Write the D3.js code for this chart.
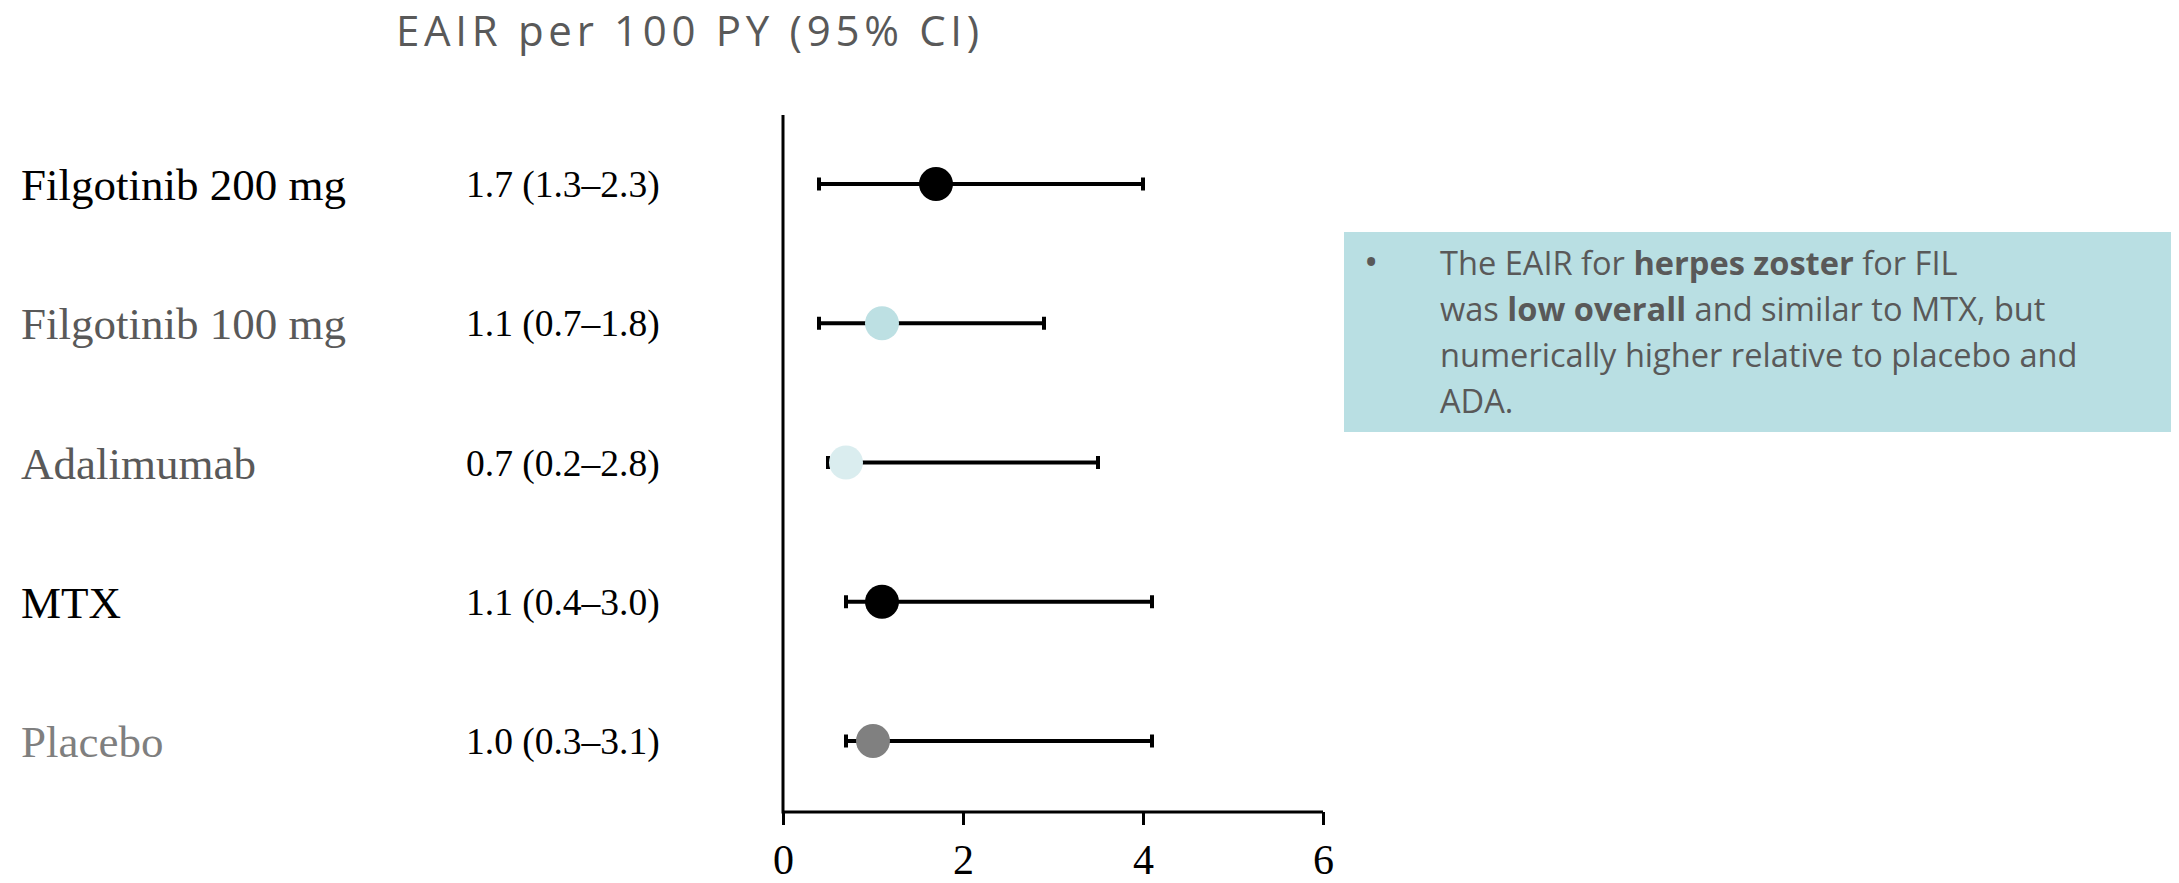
<!DOCTYPE html>
<html>
<head>
<meta charset="utf-8">
<script src="https://cdn.jsdelivr.net/npm/d3@7"></script>
<style>
  body { margin: 0; background: #fff; }
  svg { display: block; }
</style>
</head>
<body>
<div class="forest"></div>
<script>
// data
var groups = ["Filgotinib 200 mg", "Filgotinib 100 mg", "Adalimumab", "MTX", "Placebo"];
var estimate = [1.7, 1.1, 0.7, 1.1, 1.0];
var ciLabels = ["1.7 (1.3\u20132.3)", "1.1 (0.7\u20131.8)", "0.7 (0.2\u20132.8)", "1.1 (0.4\u20133.0)", "1.0 (0.3\u20133.1)"];
// whiskers as drawn in the figure
var whiskerLow = [0.4, 0.4, 0.5, 0.7, 0.7];
var whiskerHigh = [4.0, 2.9, 3.5, 4.1, 4.1];
var xTicks = [0, 2, 4, 6];
var labelColors = ["#000000", "#595959", "#595959", "#000000", "#7f7f7f"];
var dotColors = ["#000000", "#bde0e3", "#daedef", "#000000", "#808080"];

var noteLines = [
	[["The EAIR for ", false], ["herpes zoster", true], [" for FIL", false]],
	[["was ", false], ["low overall", true], [" and similar to MTX, but", false]],
	[["numerically higher relative to placebo and", false]],
	[["ADA.", false]]
];

var width = 2179, height = 883;

var svg = d3.select('.forest')
	.append('svg')
	.attr('width', width)
	.attr('height', height);

//scales
var xScale = d3.scaleLinear()
	.domain([0, 6])
	.range([783, 1323]);

var yScale = d3.scalePoint()
	.domain(groups)
	.range([184, 741]);

var axisY = 812;

//title
svg.append('text')
	.attr('x', 396)
	.attr('y', 46)
	.attr('font-family', 'Open Sans')
	.attr('font-size', 42)
	.attr('letter-spacing', 4.7)
	.attr('fill', '#595959')
	.text('EAIR per 100 PY (95% CI)');

//x axis
var xAxis = d3.axisBottom()
	.scale(xScale)
	.tickValues(xTicks)
	.tickFormat(d3.format('d'))
	.tickSizeInner(13)
	.tickSizeOuter(13)
	.tickPadding(20);

var gx = svg.append('g')
	.attr('class', 'x axis')
	.attr('transform', 'translate(0,' + axisY + ')')
	.call(xAxis);

gx.select('.domain').attr('stroke', '#000').attr('stroke-width', 3).attr('d', 'M' + xScale(0) + ',0H' + xScale(6));
gx.selectAll('.tick line').attr('stroke', '#000').attr('stroke-width', 3);
gx.selectAll('.tick text')
	.attr('font-family', 'Liberation Serif')
	.attr('font-size', 42)
	.attr('dy', null)
	.attr('y', 62)
	.attr('fill', '#000');

//vertical axis line at zero
svg.append('line')
	.attr('x1', xScale(0))
	.attr('x2', xScale(0))
	.attr('y1', 115)
	.attr('y2', axisY + 1.5)
	.attr('stroke', '#000')
	.attr('stroke-width', 3);

var rows = groups.map(function (g, i) {
	return {
		group: g,
		est: estimate[i],
		lo: whiskerLow[i],
		hi: whiskerHigh[i],
		label: ciLabels[i],
		labelColor: labelColors[i],
		dotColor: dotColors[i]
	};
});

var row = svg.selectAll('.row')
	.data(rows)
	.enter().append('g')
	.attr('class', 'row')
	.attr('transform', function (d) { return 'translate(0,' + yScale(d.group) + ')'; });

//group names
row.append('text')
	.attr('x', 21)
	.attr('y', 16)
	.attr('font-family', 'Liberation Serif')
	.attr('font-size', 45)
	.attr('fill', function (d) { return d.labelColor; })
	.text(function (d) { return d.group; });

//estimate text
row.append('text')
	.attr('x', 466)
	.attr('y', 13)
	.attr('font-family', 'Liberation Serif')
	.attr('font-size', 37.5)
	.attr('fill', '#000')
	.text(function (d) { return d.label; });

//whiskers
row.append('line')
	.attr('x1', function (d) { return xScale(d.lo); })
	.attr('x2', function (d) { return xScale(d.hi); })
	.attr('stroke', '#000')
	.attr('stroke-width', 4);

row.selectAll('.cap')
	.data(function (d) { return [d.lo, d.hi]; })
	.enter().append('line')
	.attr('class', 'cap')
	.attr('x1', function (v) { return xScale(v); })
	.attr('x2', function (v) { return xScale(v); })
	.attr('y1', -6.5)
	.attr('y2', 6.5)
	.attr('stroke', '#000')
	.attr('stroke-width', 4);

//points
row.append('circle')
	.attr('cx', function (d) { return xScale(d.est); })
	.attr('cy', 0)
	.attr('r', 17)
	.attr('fill', function (d) { return d.dotColor; });

//note box
var note = svg.append('g').attr('class', 'note');

note.append('rect')
	.attr('x', 1344)
	.attr('y', 232)
	.attr('width', 827)
	.attr('height', 200)
	.attr('fill', '#b9dfe3');

note.append('text')
	.attr('x', 1364)
	.attr('y', 276)
	.attr('font-family', 'Open Sans')
	.attr('font-size', 38)
	.attr('fill', '#595959')
	.text('\u2022');

note.selectAll('.noteLine')
	.data(noteLines)
	.enter().append('text')
	.attr('class', 'noteLine')
	.attr('x', 1440)
	.attr('y', function (d, i) { return 275 + i * 46; })
	.attr('font-family', 'Open Sans')
	.attr('font-size', 32.6)
	.attr('fill', '#595959')
	.selectAll('tspan')
	.data(function (d) { return d; })
	.enter().append('tspan')
	.attr('font-weight', function (p) { return p[1] ? 'bold' : 'normal'; })
	.text(function (p) { return p[0]; });
</script>
</body>
</html>
